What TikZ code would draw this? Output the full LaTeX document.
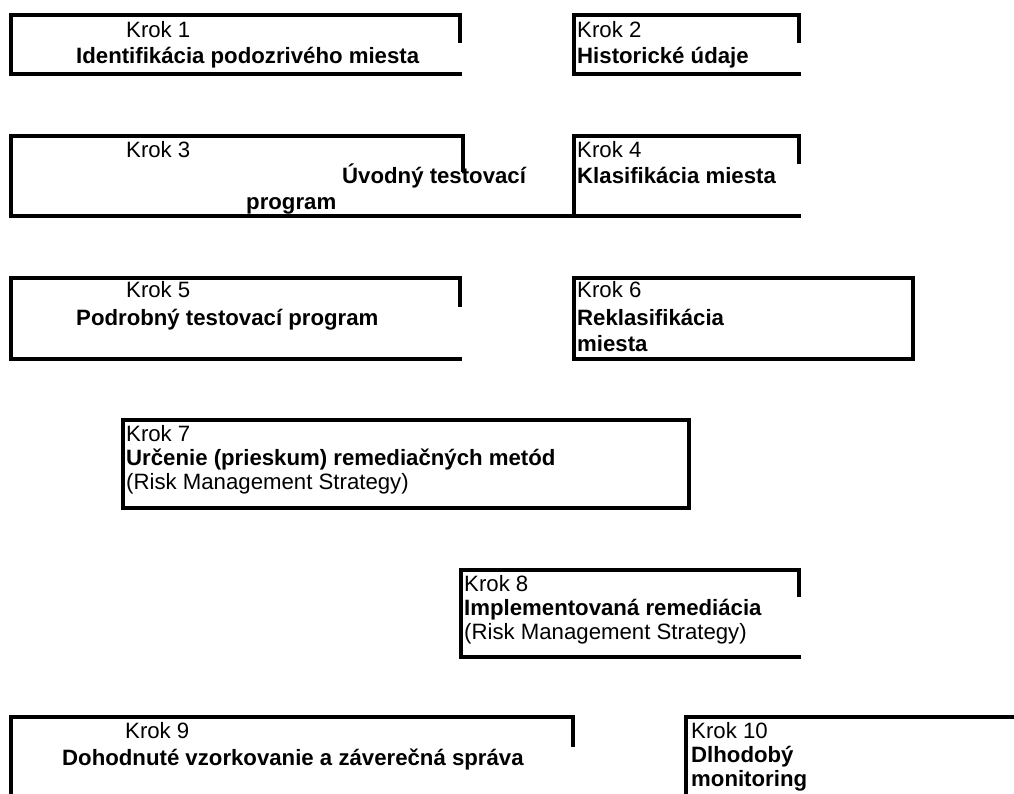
\documentclass[tikz,border=0pt]{standalone}
\usepackage{fontspec}
\setmainfont{Liberation Sans}
\begin{document}
\begin{tikzpicture}[x=1pt,y=-1pt,
  frame/.style={line width=4pt, line join=miter, draw=black},
  lbl/.style={anchor=base west, inner sep=0pt, font=\fontsize{22.2}{27}\selectfont},
  bl/.style={anchor=base west, inner sep=0pt, font=\fontsize{22.2}{27}\selectfont\bfseries}]
\useasboundingbox (0,0) rectangle (1014,793);
% boxes
\draw[frame] (460,43) -- (460,15) -- (10.5,15) -- (10.5,74) -- (462,74);
\draw[frame] (799,43) -- (799,15) -- (574,15) -- (574,74) -- (801,74);
\draw[frame] (463,172) -- (463,135.5) -- (10.5,135.5) -- (10.5,215.5) -- (574,215.5);
\draw[frame] (799,164) -- (799,135.5) -- (574,135.5) -- (574,215.5) -- (801,215.5);
\draw[frame] (460,307) -- (460,278) -- (10.5,278) -- (10.5,359) -- (462,359);
\draw[frame] (574,278) rectangle (913,359);
\draw[frame] (123,420) rectangle (689,508);
\draw[frame] (799,597) -- (799,570) -- (461,570) -- (461,657) -- (801,657);
\draw[frame] (573,747) -- (573,717) -- (10.5,717) -- (10.5,800);
\draw[frame] (1020,717) -- (686,717) -- (686,800);
% texts
\node[lbl] (k1) at (126,37) {Krok 1};
\node[bl] (t1) at (76,63) {Identifikácia podozrivého miesta};
\node[lbl] (k2) at (577,37) {Krok 2};
\node[bl] (t2) at (577,63) {Historické údaje};
\node[lbl] (k3) at (126,157) {Krok 3};
\node[bl] (t3a) at (342,183) {Úvodný testovací};
\node[bl] (t3b) at (246,209) {program};
\node[lbl] (k4) at (577,157) {Krok 4};
\node[bl] (t4) at (577,183) {Klasifikácia miesta};
\node[lbl] (k5) at (126,297) {Krok 5};
\node[bl] (t5) at (76,325) {Podrobný testovací program};
\node[lbl] (k6) at (577,297) {Krok 6};
\node[bl] (t6a) at (577,325) {Reklasifikácia};
\node[bl] (t6b) at (577,351) {miesta};
\node[lbl] (k7) at (126,441) {Krok 7};
\node[bl] (t7) at (126,465) {Určenie (prieskum) remediačných metód};
\node[lbl] (r7) at (126,489) {(Risk Management Strategy)};
\node[lbl] (k8) at (464,591) {Krok 8};
\node[bl] (t8) at (464,615) {Implementovaná remediácia};
\node[lbl] (r8) at (464,639) {(Risk Management Strategy)};
\node[lbl] (k9) at (125,738) {Krok 9};
\node[bl] (t9) at (62,765) {Dohodnuté vzorkovanie a záverečná správa};
\node[lbl] (k10) at (691,738) {Krok 10};
\node[bl] (t10a) at (691,762) {Dlhodobý};
\node[bl] (t10b) at (691,786) {monitoring};
\end{tikzpicture}
\end{document}
